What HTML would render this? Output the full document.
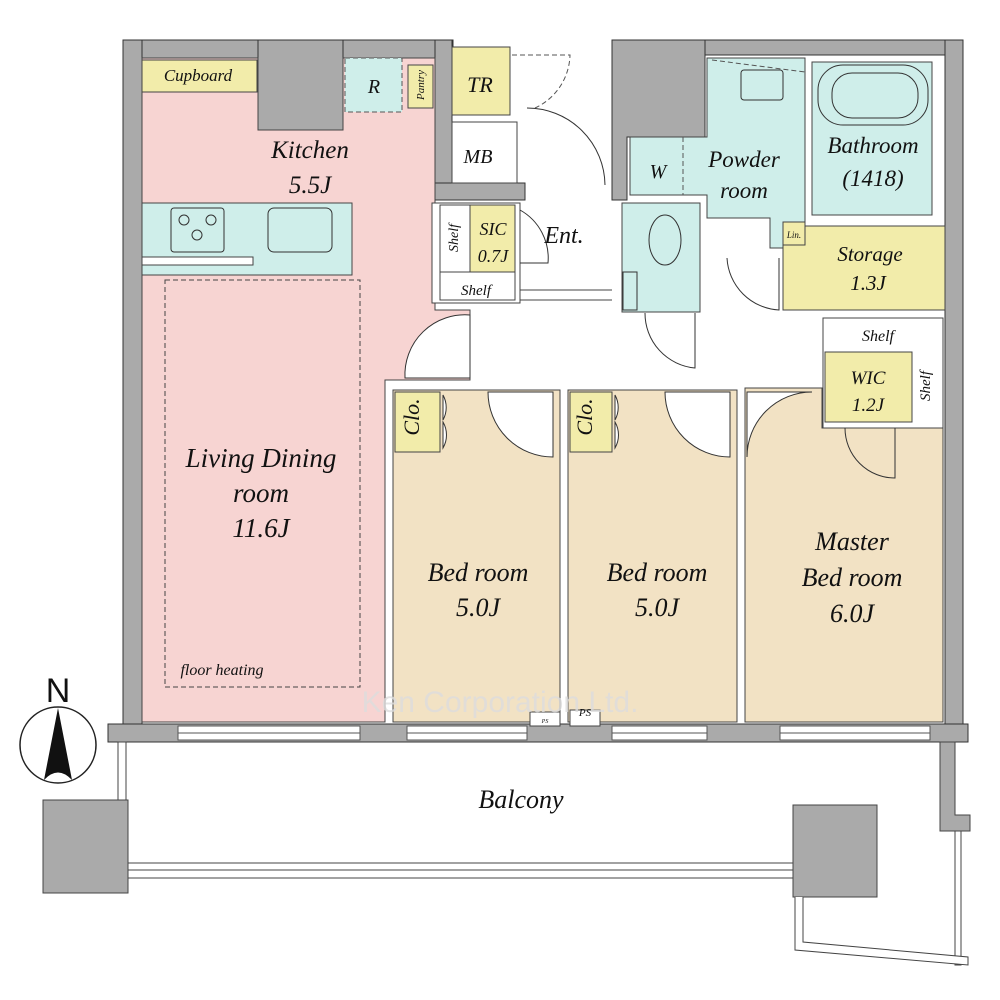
<!DOCTYPE html>
<html><head><meta charset="utf-8"><style>
html,body{margin:0;padding:0;background:#fff}
svg{display:block}
text{font-family:"Liberation Serif",serif;font-style:italic;fill:#111}
</style></head><body>
<svg width="1000" height="1000" viewBox="0 0 1000 1000" xmlns="http://www.w3.org/2000/svg">
<g stroke="#333" stroke-width="1">
<!-- walls -->
<rect x="123" y="40" width="330" height="18" fill="#aaa"/>
<rect x="123" y="40" width="19" height="700" fill="#aaa"/>
<rect x="258" y="40" width="85" height="90" fill="#aaa"/>
<rect x="435" y="40" width="17" height="160" fill="#aaa"/>
<rect x="435" y="183" width="90" height="17" fill="#aaa"/>
<rect x="612" y="40" width="351" height="15" fill="#aaa"/>
<rect x="945" y="40" width="18" height="700" fill="#aaa"/>
<path d="M612 40 H705 V137 H627 V200 H612 Z" fill="#aaa"/>
<rect x="108" y="724" width="860" height="18" fill="#aaa"/>
</g>
<!-- window gaps in bottom wall -->
<g fill="#fff" stroke="#555" stroke-width="1">
<rect x="178" y="726" width="182" height="14"/>
<rect x="407" y="726" width="120" height="14"/>
<rect x="612" y="726" width="95" height="14"/>
<rect x="780" y="726" width="150" height="14"/>
</g>
<g stroke="#555" stroke-width="1">
<line x1="178" y1="733" x2="360" y2="733"/><line x1="407" y1="733" x2="527" y2="733"/>
<line x1="612" y1="733" x2="707" y2="733"/><line x1="780" y1="733" x2="930" y2="733"/>
</g>
<!-- pink LDK -->
<path d="M142 58 H258 V130 H343 V58 H435 V310 H470 V380 H385 V722 H142 Z" fill="#f7d4d2" stroke="#444"/>
<path d="M470 315 A60 60 0 0 0 405 378 H470 Z" fill="#fff" stroke="#333"/>
<rect x="142" y="60" width="115" height="32" fill="#f2ecaa" stroke="#444"/>
<rect x="345" y="58" width="57" height="54" fill="#cfeeea" stroke="#555" stroke-dasharray="5,3"/>
<rect x="408" y="65" width="25" height="43" fill="#f2ecaa" stroke="#444"/>
<rect x="142" y="203" width="210" height="72" fill="#cfeeea" stroke="#444"/>
<rect x="171" y="208" width="53" height="44" rx="3" fill="none" stroke="#333"/>
<circle cx="184" cy="220" r="5" fill="none" stroke="#333"/><circle cx="211" cy="220" r="5" fill="none" stroke="#333"/><circle cx="197" cy="235" r="5" fill="none" stroke="#333"/>
<rect x="268" y="208" width="64" height="44" rx="6" fill="none" stroke="#333"/>
<rect x="142" y="257" width="111" height="8" fill="#fff" stroke="#444"/>
<rect x="165" y="280" width="195" height="407" fill="none" stroke="#444" stroke-dasharray="5,3"/>
<!-- TR / MB / SIC -->
<rect x="452" y="47" width="58" height="68" fill="#f2ecaa" stroke="#444"/>
<rect x="452" y="122" width="65" height="61" fill="#fff" stroke="#444"/>
<path d="M512 55 H570 A60 60 0 0 1 535 108" fill="none" stroke="#555" stroke-dasharray="5,3"/>
<path d="M527 108 A78 78 0 0 1 605 185" fill="none" stroke="#333"/>
<rect x="432" y="203" width="88" height="100" fill="#fff" stroke="#444"/>
<rect x="440" y="205" width="30" height="67" fill="#fff" stroke="#444"/>
<rect x="470" y="205" width="45" height="67" fill="#f2ecaa" stroke="#444"/>
<rect x="440" y="272" width="75" height="28" fill="#fff" stroke="#444"/>
<path d="M520 210 A55 55 0 0 1 548 263 L520 263" fill="none" stroke="#333"/>
<line x1="520" y1="290" x2="612" y2="290" stroke="#444"/><line x1="520" y1="300" x2="612" y2="300" stroke="#444"/>
<!-- powder / bath -->
<path d="M707 58 H805 V248 H770 V218 H707 V195 H630 V137 H707 Z" fill="#cfeeea" stroke="#444"/>
<line x1="683" y1="137" x2="683" y2="195" stroke="#555" stroke-dasharray="5,3"/>
<rect x="741" y="70" width="42" height="30" rx="3" fill="none" stroke="#333"/>
<line x1="712" y1="60" x2="805" y2="72" stroke="#555" stroke-dasharray="5,3"/>
<rect x="812" y="62" width="120" height="153" fill="#cfeeea" stroke="#444"/>
<rect x="818" y="65" width="110" height="60" rx="25" fill="none" stroke="#333"/>
<rect x="832" y="73" width="86" height="45" rx="20" fill="none" stroke="#333"/>
<rect x="622" y="203" width="78" height="109" fill="#cfeeea" stroke="#444"/>
<ellipse cx="665" cy="240" rx="16" ry="25" fill="none" stroke="#333"/>
<rect x="623" y="272" width="14" height="38" fill="none" stroke="#333"/>
<path d="M645 313 A55 55 0 0 0 695 368 V313" fill="none" stroke="#333"/>
<rect x="783" y="226" width="162" height="84" fill="#f2ecaa" stroke="#444"/>
<rect x="783" y="222" width="22" height="23" fill="#f2ecaa" stroke="#444"/>
<path d="M727 258 A55 55 0 0 0 779 310 V258" fill="none" stroke="#333"/>
<!-- bedrooms -->
<rect x="393" y="390" width="167" height="332" fill="#f2e2c4" stroke="#444"/>
<rect x="568" y="390" width="169" height="332" fill="#f2e2c4" stroke="#444"/>
<path d="M745 388 H822 V428 H943 V722 H745 Z" fill="#f2e2c4" stroke="#444"/>
<rect x="395" y="392" width="45" height="60" fill="#f2ecaa" stroke="#444"/>
<rect x="570" y="392" width="42" height="60" fill="#f2ecaa" stroke="#444"/>
<path d="M488 392 A65 65 0 0 0 553 457 V392 Z" fill="#fff" stroke="#333"/>
<path d="M665 392 A65 65 0 0 0 730 457 V392 Z" fill="#fff" stroke="#333"/>
<path d="M812 392 A65 65 0 0 0 747 457 V392 Z" fill="#fff" stroke="#333"/>
<path d="M443 395 A26 26 0 0 1 443 420 Z M443 448 A26 26 0 0 0 443 422 Z" fill="#fff" stroke="#333"/>
<path d="M615 395 A26 26 0 0 1 615 420 Z M615 448 A26 26 0 0 0 615 422 Z" fill="#fff" stroke="#333"/>
<rect x="823" y="318" width="120" height="110" fill="#fff" stroke="#444"/>
<rect x="825" y="352" width="87" height="70" fill="#f2ecaa" stroke="#444"/>
<path d="M845 428 A50 50 0 0 0 895 478 V428" fill="none" stroke="#333"/>
<rect x="530" y="712" width="30" height="14" fill="#fff" stroke="#444"/>
<rect x="570" y="710" width="30" height="16" fill="#fff" stroke="#444"/>
<!-- balcony -->
<g stroke="#444" fill="#fff">
<rect x="118" y="742" width="8" height="58"/>
<rect x="43" y="800" width="85" height="93" fill="#aaa"/>
<rect x="128" y="863" width="665" height="15"/>
<line x1="128" y1="870" x2="793" y2="870"/>
<rect x="793" y="805" width="84" height="92" fill="#aaa"/>
<path d="M940 742 H955 V815 H970 V831 H940 Z" fill="#aaa"/>
<rect x="955" y="831" width="6" height="134"/>
<path d="M795 897 V950 L968 965 L968 957 L803 942 V897" fill="#fff"/>
</g>
<!-- compass -->
<ellipse cx="58" cy="745" rx="38" ry="38" fill="#fff" stroke="#222" stroke-width="1.5"/>
<path d="M58 708 L44 780 Q58 765 72 780 Z" fill="#111"/>
<text x="58" y="702" font-size="34" text-anchor="middle" style="font-style:normal;font-family:'Liberation Sans',sans-serif">N</text>
<!-- labels -->
<text x="198" y="81" font-size="17" text-anchor="middle">Cupboard</text>
<text x="374" y="93" font-size="20" text-anchor="middle">R</text>
<text x="426" y="87" font-size="11" text-anchor="middle" transform="rotate(-90 424 87)">Pantry</text>
<text x="480" y="92" font-size="22" text-anchor="middle">TR</text>
<text x="478" y="163" font-size="20" text-anchor="middle">MB</text>
<text x="310" y="158" font-size="25" text-anchor="middle">Kitchen</text>
<text x="310" y="193" font-size="25" text-anchor="middle">5.5J</text>
<text x="458" y="238" font-size="14" text-anchor="middle" transform="rotate(-90 458 238)">Shelf</text>
<text x="493" y="235" font-size="18" text-anchor="middle">SIC</text>
<text x="493" y="262" font-size="18" text-anchor="middle">0.7J</text>
<text x="476" y="295" font-size="15" text-anchor="middle">Shelf</text>
<text x="564" y="243" font-size="24" text-anchor="middle">Ent.</text>
<text x="658" y="178" font-size="20" text-anchor="middle">W</text>
<text x="744" y="167" font-size="23" text-anchor="middle">Powder</text>
<text x="744" y="198" font-size="23" text-anchor="middle">room</text>
<text x="873" y="153" font-size="23" text-anchor="middle">Bathroom</text>
<text x="873" y="186" font-size="23" text-anchor="middle">(1418)</text>
<text x="794" y="238" font-size="9" text-anchor="middle">Lin.</text>
<text x="870" y="261" font-size="21" text-anchor="middle">Storage</text>
<text x="868" y="290" font-size="21" text-anchor="middle">1.3J</text>
<text x="878" y="341" font-size="16" text-anchor="middle">Shelf</text>
<text x="868" y="384" font-size="19" text-anchor="middle">WIC</text>
<text x="868" y="411" font-size="19" text-anchor="middle">1.2J</text>
<text x="930" y="386" font-size="15" text-anchor="middle" transform="rotate(-90 930 386)">Shelf</text>
<text x="424" y="422" font-size="22" text-anchor="middle" transform="rotate(-90 419 422)">Clo.</text>
<text x="597" y="422" font-size="22" text-anchor="middle" transform="rotate(-90 592 422)">Clo.</text>
<text x="261" y="467" font-size="27" text-anchor="middle">Living Dining</text>
<text x="261" y="502" font-size="27" text-anchor="middle">room</text>
<text x="261" y="537" font-size="27" text-anchor="middle">11.6J</text>
<text x="222" y="675" font-size="16" text-anchor="middle">floor heating</text>
<text x="478" y="581" font-size="26" text-anchor="middle">Bed room</text>
<text x="478" y="616" font-size="26" text-anchor="middle">5.0J</text>
<text x="657" y="581" font-size="26" text-anchor="middle">Bed room</text>
<text x="657" y="616" font-size="26" text-anchor="middle">5.0J</text>
<text x="852" y="550" font-size="26" text-anchor="middle">Master</text>
<text x="852" y="586" font-size="26" text-anchor="middle">Bed room</text>
<text x="852" y="622" font-size="26" text-anchor="middle">6.0J</text>
<text x="585" y="716" font-size="11" text-anchor="middle">PS</text>
<text x="545" y="723" font-size="6" text-anchor="middle">PS</text>
<text x="500" y="712" font-size="30" text-anchor="middle" style="font-style:normal;font-family:'Liberation Sans',sans-serif;fill:#ddd;opacity:0.8">Ken Corporation Ltd.</text>
<text x="521" y="808" font-size="26" text-anchor="middle">Balcony</text>
</svg>
</body></html>
